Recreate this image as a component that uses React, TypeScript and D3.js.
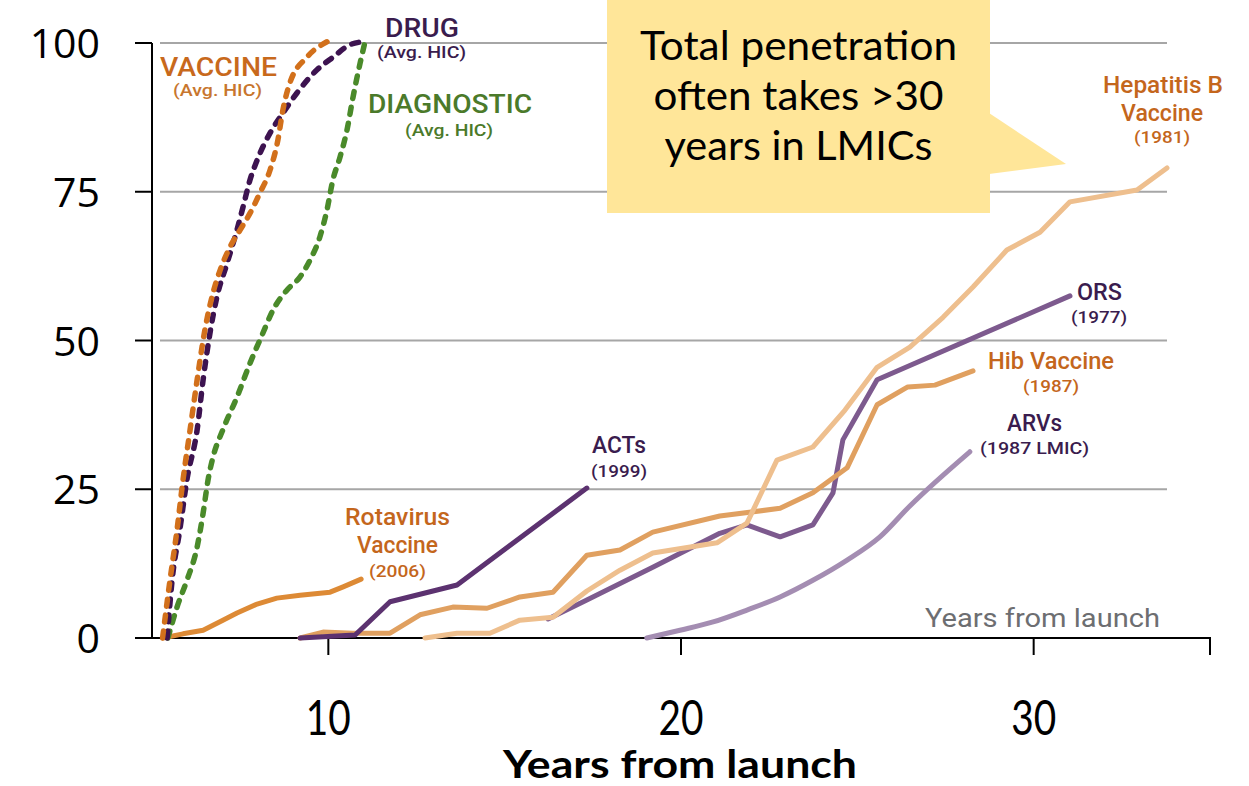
import React from "react";
import * as d3 from "d3";

type Pt = [number, number];

// ---- Data: [years from launch, % penetration] ----
const vaccineHIC: Pt[] = [
  [5.3, 0], [5.51, 9.7], [5.71, 18.2], [5.88, 26.6], [6.08, 35.0], [6.28, 43.4],
  [6.5, 51.8], [6.73, 58.0], [6.93, 61.8], [7.21, 65.7], [7.5, 68.6], [7.78, 71.4],
  [8.06, 74.8], [8.35, 78.7], [8.57, 83.7], [8.71, 88.7], [8.91, 93.3], [9.39, 97.6],
  [9.99, 100.3],
];
const drugHIC: Pt[] = [
  [5.43, 0], [5.57, 9.7], [5.79, 18.2], [5.99, 26.6], [6.28, 35.0], [6.45, 43.4],
  [6.64, 51.1], [6.84, 57.3], [7.13, 63.0], [7.41, 68.6], [7.58, 72.4], [7.78, 77.0],
  [7.98, 80.3], [8.35, 84.9], [8.71, 88.2], [9.11, 91.6], [9.68, 95.5], [10.13, 97.6],
  [10.61, 99.7], [10.98, 100.2],
];
const diagnosticHIC: Pt[] = [
  [5.45, 0], [5.71, 5.2], [5.99, 9.7], [6.28, 15.3], [6.45, 21.0], [6.59, 26.6],
  [6.73, 30.4], [7.01, 35.0], [7.41, 40.5], [7.78, 46.2], [8.12, 50.9], [8.43, 55.1],
  [8.83, 58.5], [9.2, 60.7], [9.48, 63.5], [9.76, 67.4], [9.96, 71.9], [10.13, 77.0],
  [10.33, 80.8], [10.53, 85.4], [10.7, 90.9], [10.9, 96.6], [11.04, 100.2],
];
const rotavirus: Pt[] = [
  [5.31, 0], [5.88, 0.7], [6.45, 1.3], [7.01, 3.0], [7.41, 4.2], [7.98, 5.7],
  [8.54, 6.7], [9.2, 7.2], [10.05, 7.7], [10.42, 8.6], [10.93, 9.9],
];
const acts: Pt[] = [
  [9.2, 0], [10.76, 0.5], [11.75, 6.1], [13.65, 8.9], [17.33, 25.2],
];
const hib: Pt[] = [
  [9.2, 0], [9.85, 1.0], [10.7, 0.8], [11.75, 0.8], [12.6, 3.9], [13.53, 5.2],
  [14.5, 5.0], [15.43, 6.9], [16.37, 7.7], [17.33, 13.9], [18.27, 14.8], [19.2, 17.8],
  [21.1, 20.5], [22.81, 21.8], [23.74, 24.4], [24.71, 28.6], [25.56, 39.2],
  [26.43, 42.2], [27.2, 42.5], [28.28, 44.9],
];
const hepB: Pt[] = [
  [12.74, 0], [13.65, 0.8], [14.58, 0.8], [15.43, 3.0], [16.37, 3.5], [17.33, 7.9],
  [18.27, 11.4], [19.2, 14.3], [21.02, 16.0], [21.87, 19.3], [22.72, 29.9],
  [23.74, 32.1], [24.65, 38.3], [25.56, 45.5], [26.49, 48.9], [27.43, 53.9],
  [28.28, 59.0], [29.24, 65.2], [30.18, 68.2], [31.03, 73.3], [32.93, 75.3],
  [33.78, 79.0],
];
const ors: Pt[] = [
  [16.23, 3.2], [17.33, 6.4], [19.2, 11.9], [21.1, 17.6], [21.87, 19.0],
  [22.81, 17.0], [23.74, 19.0], [24.31, 24.4], [24.59, 33.3], [25.56, 43.4],
  [31.03, 57.5],
];
const arvs: Pt[] = [
  [19.03, 0], [19.97, 1.3], [20.91, 2.7], [21.87, 4.7], [22.81, 6.9], [23.74, 9.7],
  [24.71, 13.1], [25.64, 17.0], [26.49, 22.2], [28.19, 31.3],
];

const xTicks = [10, 20, 30];
const yTicks = [0, 25, 50, 75, 100];
const gridValues = [25, 50, 75, 100];
const calloutLines = ["Total penetration", "often takes >30", "years in LMICs"];

const W = 1249;
const H = 786;
const x = d3.scaleLinear().domain([5, 35]).range([152, 1210]);
const y = d3.scaleLinear().domain([0, 100]).range([638, 43]);

const smooth = d3
  .line<Pt>()
  .x((d) => x(d[0]))
  .y((d) => y(d[1]))
  .curve(d3.curveMonotoneX);
const straight = d3
  .line<Pt>()
  .x((d) => x(d[0]))
  .y((d) => y(d[1]))
  .curve(d3.curveLinear);

const LABEL_FONT = "Roboto, 'DejaVu Sans', sans-serif";
const TICK_FONT = "'Open Sans', 'Noto Sans', sans-serif";
const CALLOUT_FONT = "Lato, 'Open Sans', sans-serif";

type Lbl = { t: string; x: number; y: number; fs: number; len: number; c: string };
const ORANGE_LBL = "#C4661C";
const PURPLE_LBL = "#3A1C4E";
const GREEN_LBL = "#4B7A2A";

const labels: Lbl[] = [
  { t: "VACCINE", x: 218.5, y: 76, fs: 25, len: 117, c: "#C8691C" },
  { t: "(Avg. HIC)", x: 217.5, y: 96, fs: 16, len: 89, c: "#C8762E" },
  { t: "DRUG", x: 422, y: 37, fs: 25, len: 74, c: PURPLE_LBL },
  { t: "(Avg. HIC)", x: 421.5, y: 58, fs: 16, len: 89, c: PURPLE_LBL },
  { t: "DIAGNOSTIC", x: 450, y: 113, fs: 25, len: 164, c: GREEN_LBL },
  { t: "(Avg. HIC)", x: 449, y: 136, fs: 16, len: 88, c: GREEN_LBL },
  { t: "Rotavirus", x: 397.5, y: 525, fs: 23, len: 105, c: ORANGE_LBL },
  { t: "Vaccine", x: 397.5, y: 553, fs: 23, len: 81, c: ORANGE_LBL },
  { t: "(2006)", x: 397.5, y: 577, fs: 16, len: 57, c: ORANGE_LBL },
  { t: "ACTs", x: 619, y: 453, fs: 23, len: 54, c: PURPLE_LBL },
  { t: "(1999)", x: 619, y: 477, fs: 16, len: 56, c: PURPLE_LBL },
  { t: "Hepatitis B", x: 1163, y: 93, fs: 23, len: 120, c: ORANGE_LBL },
  { t: "Vaccine", x: 1162, y: 121, fs: 23, len: 82, c: ORANGE_LBL },
  { t: "(1981)", x: 1162, y: 143, fs: 16, len: 56, c: ORANGE_LBL },
  { t: "ORS", x: 1099.5, y: 300, fs: 23, len: 45, c: PURPLE_LBL },
  { t: "(1977)", x: 1099, y: 323, fs: 16, len: 56, c: PURPLE_LBL },
  { t: "Hib Vaccine", x: 1051, y: 369, fs: 23, len: 126, c: ORANGE_LBL },
  { t: "(1987)", x: 1051, y: 392, fs: 16, len: 56, c: ORANGE_LBL },
  { t: "ARVs", x: 1034.5, y: 431, fs: 23, len: 55, c: PURPLE_LBL },
  { t: "(1987 LMIC)", x: 1034.5, y: 454, fs: 16, len: 109, c: PURPLE_LBL },
];

export default function App() {
  const calloutLens = [317, 290, 268];
  return (
    <svg
      width={W}
      height={H}
      viewBox={`0 0 ${W} ${H}`}
      style={{ position: "absolute", left: 0, top: 0, background: "#ffffff" }}
    >
      <rect x={0} y={0} width={W} height={H} fill="#ffffff" />
      {/* gridlines */}
      {gridValues.map((v) => (
        <line key={v} x1={160} x2={1167} y1={y(v)} y2={y(v)} stroke="#A6A6A6" strokeWidth={2} />
      ))}

      {/* callout */}
      <rect x={607} y={0} width={383} height={213} fill="#FFE699" />
      <path d="M989,113 L1066,164 L989,174 Z" fill="#FFE699" />
      {calloutLines.map((t, i) => (
        <text
          key={t}
          x={798.5}
          y={60 + i * 50}
          textAnchor="middle"
          fontFamily={CALLOUT_FONT}
          fontSize={41}
          fill="#000"
          textLength={calloutLens[i]}
          lengthAdjust="spacingAndGlyphs"
        >
          {t}
        </text>
      ))}

      {/* axes */}
      <line x1={152} x2={152} y1={y(100)} y2={y(0) + 1} stroke="#000" strokeWidth={2} />
      {yTicks.map((v) => (
        <g key={v}>
          <line x1={135} x2={152} y1={y(v)} y2={y(v)} stroke="#000" strokeWidth={2} />
          <text
            x={100}
            y={y(v) + 15}
            textAnchor="end"
            fontFamily={TICK_FONT}
            fontSize={41}
            fill="#000"
          >
            {v}
          </text>
        </g>
      ))}
      <line x1={151} x2={1211} y1={y(0)} y2={y(0)} stroke="#000" strokeWidth={2} />
      {[...xTicks, 35].map((v) => (
        <line key={v} x1={x(v)} x2={x(v)} y1={y(0)} y2={y(0) + 17} stroke="#000" strokeWidth={2} />
      ))}
      {xTicks.map((v) => (
        <text
          key={v}
          x={x(v)}
          y={735}
          textAnchor="middle"
          fontFamily={CALLOUT_FONT}
          fontSize={48}
          fill="#000"
          textLength={45}
          lengthAdjust="spacingAndGlyphs"
        >
          {v}
        </text>
      ))}
      <text
        x={680}
        y={778}
        textAnchor="middle"
        fontFamily={CALLOUT_FONT}
        fontWeight={700}
        fontSize={39}
        fill="#000"
        textLength={354}
        lengthAdjust="spacingAndGlyphs"
      >
        Years from launch
      </text>
      <text
        x={1042.5}
        y={627}
        textAnchor="middle"
        fontFamily={LABEL_FONT}
        fontSize={25}
        fill="#6D6E71"
        textLength={235}
        lengthAdjust="spacingAndGlyphs"
      >
        Years from launch
      </text>

      {/* solid LMIC lines */}
      <g fill="none" strokeWidth={5} strokeLinejoin="round" strokeLinecap="round">
        <path d={smooth(arvs) || ""} stroke="#A48DB2" />
        <path d={straight(ors) || ""} stroke="#7D5A8E" />
        <path d={straight(hib) || ""} stroke="#E0A060" />
        <path d={straight(hepB) || ""} stroke="#EEBF8E" />
        <path d={straight(acts) || ""} stroke="#5C3270" />
        <path d={straight(rotavirus) || ""} stroke="#DD8A35" />
      </g>

      {/* dashed HIC averages */}
      <g fill="none" strokeWidth={5.5} strokeLinecap="round" strokeDasharray="7 9">
        <path d={smooth(diagnosticHIC) || ""} stroke="#4A8A2A" />
        <path d={smooth(drugHIC) || ""} stroke="#3D1350" />
        <path d={smooth(vaccineHIC) || ""} stroke="#D2701B" />
      </g>

      {/* labels */}
      {labels.map((l, i) => (
        <text
          key={i}
          x={l.x}
          y={l.y}
          textAnchor="middle"
          fontFamily={LABEL_FONT}
          fontWeight={500}
          fontSize={l.fs}
          fill={l.c}
          textLength={l.len}
          lengthAdjust="spacingAndGlyphs"
        >
          {l.t}
        </text>
      ))}
    </svg>
  );
}
